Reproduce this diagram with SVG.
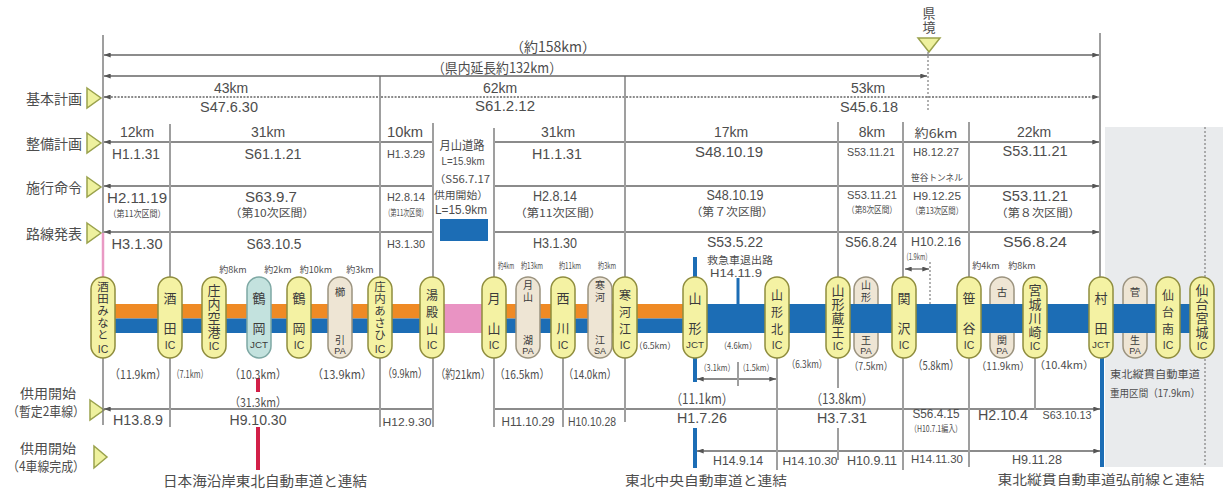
<svg xmlns="http://www.w3.org/2000/svg" width="1223" height="492" viewBox="0 0 1223 492">
<defs>
<style>
text{font-family:"Noto Sans CJK JP","Noto Sans",sans-serif;fill:#4d4d4d;text-anchor:middle;dominant-baseline:central}
.a{font-family:"Liberation Sans",Arial,sans-serif}
.t{font-size:14px}
.m{font-size:12px}
.s{font-size:10.5px}
.xs{font-size:9px}
.lab{font-size:14px;text-anchor:end}
.vt{writing-mode:vertical-rl;text-anchor:start}
.ln{stroke:#666;stroke-width:1.3;fill:none;marker-start:url(#ar);marker-end:url(#ar)}
.dot{stroke-dasharray:2 1.4}
.v{stroke:#777;stroke-width:1.4;fill:none}
.vd{stroke:#888;stroke-width:1.3;stroke-dasharray:2 2;fill:none}
.tri{fill:#eef19e;stroke:#9aa24c;stroke-width:1.5}
.ic{fill:#f4f2a3;stroke:#8f8d3e;stroke-width:1.5}
.jt{fill:#c3e2de;stroke:#7ea8a4;stroke-width:1.5}
.pa{fill:#eee5d4;stroke:#9b937f;stroke-width:1.5}
.n2{font-size:13px;fill:#3b3b3b}
.n3{font-size:12px;fill:#3b3b3b}
.n4{font-size:13px;letter-spacing:1px;fill:#3b3b3b}
.n5{font-size:11.5px;letter-spacing:0.5px;fill:#3b3b3b}
.ns{font-size:10.5px;fill:#3b3b3b}
.np{font-size:9px;fill:#3b3b3b;font-family:"Liberation Sans",Arial,sans-serif}
.sx{font-size:10.5px;fill:#3b3b3b;font-family:"Liberation Sans",Arial,sans-serif}
</style>
<marker id="ar" viewBox="0 0 8 6" refX="8" refY="3" markerWidth="7" markerHeight="5" markerUnits="userSpaceOnUse" orient="auto-start-reverse"><path d="M0,0L8,3L0,6z" fill="#555"/></marker>
</defs>
<rect width="1223" height="492" fill="#fff"/>
<rect x="1105" y="127" width="118" height="340" fill="#e9ebed"/>

<g id="row-labels">
<text class="lab" x="82" y="98">基本計画</text>
<polygon class="tri" points="87,88 101,98 87,108"/>
<text class="lab" x="82" y="143">整備計画</text>
<polygon class="tri" points="87,133 101,143 87,153"/>
<text class="lab" x="82" y="187">施行命令</text>
<polygon class="tri" points="87,177 101,187 87,197"/>
<text class="lab" x="82" y="233">路線発表</text>
<polygon class="tri" points="87,223 101,233 87,243"/>
<text style="font-size:13px" x="48" y="392" textLength="56" lengthAdjust="spacingAndGlyphs">供用開始</text>
<text style="font-size:13px" x="46" y="410" textLength="78" lengthAdjust="spacingAndGlyphs">（暫定2車線）</text>
<polygon class="tri" points="90,400 104,410 90,420"/>
<text style="font-size:13px" x="48" y="447" textLength="56" lengthAdjust="spacingAndGlyphs">供用開始</text>
<text style="font-size:13px" x="46" y="465" textLength="78" lengthAdjust="spacingAndGlyphs">（4車線完成）</text>
<polygon class="tri" points="94,446 107,457 94,468"/>
<text class="vt" style="font-size:13px;letter-spacing:1px" x="929" y="6.5">県境</text>
<polygon class="tri" points="918,38 940,38 929,52"/>
</g>

<g id="connectors">
<path class="v" d="M103 35V233M170 124V277M380 76V277M433 123V277M494 128V277M625 76V277M838 122V277M903 122V277M969 122V277M1100 33V277"/>
<path d="M103 233V277" stroke="#e99ac4" stroke-width="2.5"/>
<path class="vd" d="M928 52V112M930 262V304M1205 127V467"/>
<path class="v" d="M103 358V425M170 358V427M380 358V427M433 358V427M494 358V427M563 358V427M625 358V422M777 358V470M838 358V388M838 428V460M903 358V470M969 358V467M1035 358V410M738 362V386"/>
<path d="M695 257V277M695 358V382M695 428V468M1102 358V467" stroke="#1c6db5" stroke-width="4"/>
<path d="M738 278V304" stroke="#1c6db5" stroke-width="3"/>
<path d="M258 378V392M258 427V470" stroke="#d21f48" stroke-width="4"/>
<path class="ln" d="M104 55H1099"/>
<path class="ln" d="M104 76H927"/>
<path class="ln dot" d="M104 97H379M381 97H624M626 97H1099"/>
<path class="ln" d="M104 142H169M171 142H379M381 142H432M495 142H624M626 142H837M839 142H902M904 142H968M970 142H1099"/>
<path class="ln" d="M104 186H169M171 186H379M381 186H432M495 186H624M626 186H837M839 186H902M904 186H968M970 186H1099"/>
<path class="ln" d="M104 232H169M171 232H379M381 232H432M495 232H624M626 232H837M839 232H902M904 232H968M970 232H1099"/>
<path class="ln" d="M905 269H929"/>
<path class="ln" d="M697 379H737M739 379H776"/>
<path class="ln" d="M104 409H169M171 409H379M381 409H432M495 409H562M564 409H624M626 409H776M778 409H902M904 409H968M970 409H1034M1036 409H1100"/>
<path class="ln" d="M697 451H776M778 451H837M839 451H902M904 451H968M970 451H1100"/>
</g>

<g id="bands">
<rect x="103" y="304" width="330" height="14.5" fill="#ef8a25"/>
<rect x="494" y="304" width="201" height="14.5" fill="#ef8a25"/>
<rect x="103" y="318.5" width="330" height="14.5" fill="#1c6db5"/>
<rect x="494" y="318.5" width="201" height="14.5" fill="#1c6db5"/>
<rect x="433" y="304" width="61" height="29" fill="#e993c3"/>
</g>

<g id="pa-nodes">
<g id="n-kushibiki-pa"><rect class="pa" x="328" y="277" width="24" height="81" rx="12"/><text class="ns" x="340" y="291">櫛</text><text class="ns" style="font-size:10px" x="340" y="339">引</text><text class="np" x="340" y="351">PA</text></g>
<g id="n-gassanko-pa"><rect class="pa" x="516" y="277" width="24" height="81" rx="12"/><text class="ns vt" style="font-size:10px;letter-spacing:2px" x="528" y="280">月山</text><text class="ns" style="font-size:10px" x="528" y="339">湖</text><text class="np" x="528" y="351">PA</text></g>
<g id="n-sagae-sa"><rect class="pa" x="588" y="277" width="24" height="81" rx="12"/><text class="ns vt" style="font-size:10px;letter-spacing:2px" x="600" y="280">寒河</text><text class="ns" style="font-size:10px" x="600" y="339">江</text><text class="np" x="600" y="351">SA</text></g>
<g id="n-zao-pa"><rect class="pa" x="854" y="277" width="24" height="81" rx="12"/><text class="ns vt" style="font-size:10px;letter-spacing:2px" x="866" y="280">山形</text><text class="ns" style="font-size:10px" x="866" y="339">王</text><text class="np" x="866" y="351">PA</text></g>
<g id="n-kozeki-pa"><rect class="pa" x="990" y="277" width="24" height="81" rx="12"/><text class="ns" x="1002" y="291">古</text><text class="ns" style="font-size:10px" x="1002" y="339">関</text><text class="np" x="1002" y="351">PA</text></g>
<g id="n-sugo-pa"><rect class="pa" x="1123" y="277" width="24" height="81" rx="12"/><text class="ns" x="1135" y="291">菅</text><text class="ns" style="font-size:10px" x="1135" y="339">生</text><text class="np" x="1135" y="351">PA</text></g>
</g>

<g id="band-blue">
<rect x="695" y="304" width="507" height="29" fill="#1c6db5"/>
</g>

<g id="ic-nodes">
<g id="n-sakata-minato"><rect class="ic" x="91" y="277" width="24" height="81" rx="12"/><text class="n5 vt" x="103" y="281.25">酒田みなと</text><text class="sx" x="103" y="349">IC</text></g>
<g id="n-sakata"><rect class="ic" x="158" y="277" width="24" height="81" rx="12"/><text class="n2" x="170" y="297">酒</text><text class="n2" x="170" y="327">田</text><text class="sx" x="170" y="345">IC</text></g>
<g id="n-shonai-airport"><rect class="ic" x="202" y="277" width="24" height="81" rx="12"/><text class="n4 vt" x="214" y="283.5">庄内空港</text><text class="sx" x="214" y="346">IC</text></g>
<g id="n-tsuruoka-jct"><rect class="jt" x="247" y="277" width="24" height="81" rx="12"/><text class="n2" x="259" y="297">鶴</text><text class="n2" x="259" y="327">岡</text><text class="np" x="259" y="345" textLength="18" lengthAdjust="spacingAndGlyphs">JCT</text></g>
<g id="n-tsuruoka"><rect class="ic" x="287" y="277" width="24" height="81" rx="12"/><text class="n2" x="299" y="297">鶴</text><text class="n2" x="299" y="327">岡</text><text class="sx" x="299" y="345">IC</text></g>
<g id="n-shonai-asahi"><rect class="ic" x="368" y="277" width="24" height="81" rx="12"/><text class="n5 vt" x="380" y="281.25">庄内あさひ</text><text class="sx" x="380" y="349">IC</text></g>
<g id="n-yudonosan"><rect class="ic" x="420" y="277" width="24" height="81" rx="12"/><text class="n3" x="432" y="294">湯</text><text class="n3" x="432" y="311">殿</text><text class="n3" x="432" y="328">山</text><text class="sx" x="432" y="345">IC</text></g>
<g id="n-gassan"><rect class="ic" x="482" y="277" width="24" height="81" rx="12"/><text class="n2" x="494" y="297">月</text><text class="n2" x="494" y="327">山</text><text class="sx" x="494" y="345">IC</text></g>
<g id="n-nishikawa"><rect class="ic" x="551" y="277" width="24" height="81" rx="12"/><text class="n2" x="563" y="297">西</text><text class="n2" x="563" y="327">川</text><text class="sx" x="563" y="345">IC</text></g>
<g id="n-sagae"><rect class="ic" x="613" y="277" width="24" height="81" rx="12"/><text class="n3" x="625" y="294">寒</text><text class="n3" x="625" y="311">河</text><text class="n3" x="625" y="328">江</text><text class="sx" x="625" y="345">IC</text></g>
<g id="n-yamagata-jct"><rect class="ic" x="683" y="277" width="24" height="81" rx="12"/><text class="n2" x="695" y="297">山</text><text class="n2" x="695" y="327">形</text><text class="np" x="695" y="345" textLength="18" lengthAdjust="spacingAndGlyphs">JCT</text></g>
<g id="n-yamagata-kita"><rect class="ic" x="765" y="277" width="24" height="81" rx="12"/><text class="n3" x="777" y="294">山</text><text class="n3" x="777" y="311">形</text><text class="n3" x="777" y="328">北</text><text class="sx" x="777" y="345">IC</text></g>
<g id="n-yamagata-zao"><rect class="ic" x="826" y="277" width="24" height="81" rx="12"/><text class="n4 vt" x="838" y="283.5">山形蔵王</text><text class="sx" x="838" y="346">IC</text></g>
<g id="n-sekizawa"><rect class="ic" x="892" y="277" width="24" height="81" rx="12"/><text class="n2" x="904" y="297">関</text><text class="n2" x="904" y="327">沢</text><text class="sx" x="904" y="345">IC</text></g>
<g id="n-sasaya"><rect class="ic" x="957" y="277" width="24" height="81" rx="12"/><text class="n2" x="969" y="297">笹</text><text class="n2" x="969" y="327">谷</text><text class="sx" x="969" y="345">IC</text></g>
<g id="n-miyagi-kawasaki"><rect class="ic" x="1023" y="277" width="24" height="81" rx="12"/><text class="n4 vt" x="1035" y="283.5">宮城川崎</text><text class="sx" x="1035" y="346">IC</text></g>
<g id="n-murata-jct"><rect class="ic" x="1089" y="277" width="24" height="81" rx="12"/><text class="n2" x="1101" y="297">村</text><text class="n2" x="1101" y="327">田</text><text class="np" x="1101" y="345" textLength="18" lengthAdjust="spacingAndGlyphs">JCT</text></g>
<g id="n-sendai-minami"><rect class="ic" x="1156" y="277" width="24" height="81" rx="12"/><text class="n3" x="1168" y="294">仙</text><text class="n3" x="1168" y="311">台</text><text class="n3" x="1168" y="328">南</text><text class="sx" x="1168" y="345">IC</text></g>
<g id="n-sendai-miyagi"><rect class="ic" x="1190" y="277" width="24" height="81" rx="12"/><text class="n4 vt" x="1202" y="283.5">仙台宮城</text><text class="sx" x="1202" y="346">IC</text></g>
</g>

<g id="labels">
<text class="t" x="553" y="46">（約158km）</text>
<text class="t" x="497" y="67" textLength="130" lengthAdjust="spacingAndGlyphs">（県内延長約132km）</text>
<text class="t a" x="231" y="88">43km</text><text class="t a" x="229" y="107" textLength="58" lengthAdjust="spacingAndGlyphs">S47.6.30</text>
<text class="t a" x="500" y="88">62km</text><text class="t a" x="505" y="106" textLength="60" lengthAdjust="spacingAndGlyphs">S61.2.12</text>
<text class="t a" x="868" y="88">53km</text><text class="t a" x="869" y="107" textLength="58" lengthAdjust="spacingAndGlyphs">S45.6.18</text>

<text class="t a" x="137" y="132">12km</text><text class="t a" x="136" y="154" textLength="48" lengthAdjust="spacingAndGlyphs">H1.1.31</text>
<text class="t a" x="268" y="132">31km</text><text class="t a" x="273" y="154" textLength="57" lengthAdjust="spacingAndGlyphs">S61.1.21</text>
<text class="t a" x="405" y="132" textLength="36" lengthAdjust="spacingAndGlyphs">10km</text><text class="s a" x="406" y="154" textLength="38" lengthAdjust="spacingAndGlyphs">H1.3.29</text>
<text class="m" x="462" y="144" textLength="45" lengthAdjust="spacingAndGlyphs">月山道路</text>
<text class="s a" x="463" y="161" textLength="43" lengthAdjust="spacingAndGlyphs">L=15.9km</text>
<text class="s" x="462" y="178" textLength="56" lengthAdjust="spacingAndGlyphs">（S56.7.17</text>
<text class="s" x="461" y="194" textLength="54" lengthAdjust="spacingAndGlyphs">供用開始）</text>
<text class="m a" x="461" y="210" textLength="52" lengthAdjust="spacingAndGlyphs">L=15.9km</text>
<rect x="440" y="219" width="48" height="22" fill="#1c6db5"/>
<text class="t a" x="558" y="132">31km</text><text class="t a" x="557" y="154" textLength="50" lengthAdjust="spacingAndGlyphs">H1.1.31</text>
<text class="t a" x="731" y="132">17km</text><text class="t a" x="729" y="152" textLength="68" lengthAdjust="spacingAndGlyphs">S48.10.19</text>
<text class="t a" x="872" y="132">8km</text><text class="s a" x="871" y="152" textLength="48" lengthAdjust="spacingAndGlyphs">S53.11.21</text>
<text class="m" x="936" y="132" textLength="43" lengthAdjust="spacingAndGlyphs">約6km</text><text class="s a" x="936" y="152" textLength="46" lengthAdjust="spacingAndGlyphs">H8.12.27</text>
<text class="t a" x="1034" y="132">22km</text><text class="t a" x="1035" y="151" textLength="65" lengthAdjust="spacingAndGlyphs">S53.11.21</text>

<text class="t a" x="137" y="198" textLength="60" lengthAdjust="spacingAndGlyphs">H2.11.19</text><text class="xs" x="137" y="213" textLength="57" lengthAdjust="spacingAndGlyphs">（第11次区間）</text>
<text class="t a" x="271" y="197" textLength="52" lengthAdjust="spacingAndGlyphs">S63.9.7</text><text style="font-size:11px" x="272" y="212" textLength="85" lengthAdjust="spacingAndGlyphs">（第10次区間）</text>
<text class="s a" x="406" y="197" textLength="38" lengthAdjust="spacingAndGlyphs">H2.8.14</text><text class="xs" transform="translate(406 212) scale(0.65 1)" textLength="66" lengthAdjust="spacingAndGlyphs">（第11次区間）</text>
<text class="t a" x="555" y="196" textLength="44" lengthAdjust="spacingAndGlyphs">H2.8.14</text><text style="font-size:11px" x="558" y="212" textLength="87" lengthAdjust="spacingAndGlyphs">（第11次区間）</text>
<text class="t a" x="735" y="195" textLength="57" lengthAdjust="spacingAndGlyphs">S48.10.19</text><text style="font-size:11px" x="732" y="211" textLength="83" lengthAdjust="spacingAndGlyphs">（第７次区間）</text>
<text class="s a" x="872" y="195" textLength="50" lengthAdjust="spacingAndGlyphs">S53.11.21</text><text class="xs" x="872" y="209" textLength="50" lengthAdjust="spacingAndGlyphs">（第8次区間）</text>
<text class="xs" x="937" y="177" textLength="52" lengthAdjust="spacingAndGlyphs">笹谷トンネル</text>
<text class="s a" x="937" y="196" textLength="48" lengthAdjust="spacingAndGlyphs">H9.12.25</text><text class="xs" x="937" y="210" textLength="52" lengthAdjust="spacingAndGlyphs">（第13次区間）</text>
<text class="t a" x="1035" y="196" textLength="66" lengthAdjust="spacingAndGlyphs">S53.11.21</text><text style="font-size:11px" x="1038" y="212" textLength="85" lengthAdjust="spacingAndGlyphs">（第８次区間）</text>

<text class="t a" x="137" y="244" textLength="51" lengthAdjust="spacingAndGlyphs">H3.1.30</text>
<text class="t a" x="274" y="244" textLength="55" lengthAdjust="spacingAndGlyphs">S63.10.5</text>
<text class="s a" x="406" y="244" textLength="38" lengthAdjust="spacingAndGlyphs">H3.1.30</text>
<text class="t a" x="555" y="243" textLength="44" lengthAdjust="spacingAndGlyphs">H3.1.30</text>
<text class="t a" x="735" y="242" textLength="56" lengthAdjust="spacingAndGlyphs">S53.5.22</text>
<text class="t a" x="871" y="242" textLength="52" lengthAdjust="spacingAndGlyphs">S56.8.24</text>
<text class="m a" x="936" y="242" textLength="50" lengthAdjust="spacingAndGlyphs">H10.2.16</text>
<text class="xs" x="917" y="256" textLength="28" lengthAdjust="spacingAndGlyphs">（1.9km）</text>
<text class="t a" x="1035" y="242" textLength="64" lengthAdjust="spacingAndGlyphs">S56.8.24</text>

<text class="xs" x="233" y="269">約8km</text><text class="xs" x="278" y="269">約2km</text><text class="xs" x="316" y="269">約10km</text><text class="xs" x="360" y="269">約3km</text>
<text class="xs" transform="translate(506 265) scale(0.65 1)" textLength="25" lengthAdjust="spacingAndGlyphs">約4km</text>
<text class="xs" transform="translate(532 265) scale(0.65 1)" textLength="34" lengthAdjust="spacingAndGlyphs">約13km</text>
<text class="xs" transform="translate(570 265) scale(0.65 1)" textLength="34" lengthAdjust="spacingAndGlyphs">約11km</text>
<text class="xs" transform="translate(607 265) scale(0.65 1)" textLength="28" lengthAdjust="spacingAndGlyphs">約3km</text>
<text class="xs" x="986" y="265">約4km</text><text class="xs" x="1022" y="265">約8km</text>
<text class="s" x="740" y="259" textLength="66" lengthAdjust="spacingAndGlyphs">救急車退出路</text>
<text class="s a" x="736" y="273" textLength="52" lengthAdjust="spacingAndGlyphs">H14.11.9</text>

<text class="m" transform="translate(138 373) scale(0.8 1)" textLength="71" lengthAdjust="spacingAndGlyphs">（11.9km）</text>
<text class="s" transform="translate(190 373) scale(0.7 1)" textLength="51" lengthAdjust="spacingAndGlyphs">（7.1km）</text>
<text class="m" transform="translate(258 373) scale(0.8 1)" textLength="71" lengthAdjust="spacingAndGlyphs">（10.3km）</text>
<text class="m" transform="translate(342 373) scale(0.8 1)" textLength="75" lengthAdjust="spacingAndGlyphs">（13.9km）</text>
<text class="m" transform="translate(405 373) scale(0.75 1)" textLength="59" lengthAdjust="spacingAndGlyphs">（9.9km）</text>
<text class="m" transform="translate(463 373) scale(0.8 1)" textLength="69" lengthAdjust="spacingAndGlyphs">（約21km）</text>
<text class="m" transform="translate(522 373) scale(0.8 1)" textLength="69" lengthAdjust="spacingAndGlyphs">（16.5km）</text>
<text class="m" transform="translate(590 373) scale(0.8 1)" textLength="66" lengthAdjust="spacingAndGlyphs">（14.0km）</text>
<text class="xs" x="655" y="345" textLength="42" lengthAdjust="spacingAndGlyphs">（6.5km）</text>
<text class="xs" x="738" y="345" textLength="37" lengthAdjust="spacingAndGlyphs">（4.6km）</text>
<text class="xs" transform="translate(717 367) scale(0.75 1)" textLength="47" lengthAdjust="spacingAndGlyphs">（3.1km）</text>
<text class="xs" transform="translate(756 367) scale(0.75 1)" textLength="47" lengthAdjust="spacingAndGlyphs">（1.5km）</text>
<text class="s" x="807" y="363" textLength="40" lengthAdjust="spacingAndGlyphs">（6.3km）</text>
<text class="s" x="871" y="365" textLength="43" lengthAdjust="spacingAndGlyphs">（7.5km）</text>
<text class="m" x="936" y="364" textLength="46" lengthAdjust="spacingAndGlyphs">（5.8km）</text>
<text style="font-size:10.5px" x="1003" y="365.5" textLength="53" lengthAdjust="spacingAndGlyphs">（11.9km）</text>
<text style="font-size:10.5px" x="1064" y="364" textLength="60" lengthAdjust="spacingAndGlyphs">（10.4km）</text>

<text class="t a" x="138" y="420" textLength="50" lengthAdjust="spacingAndGlyphs">H13.8.9</text>
<text class="m" x="258" y="401" textLength="57" lengthAdjust="spacingAndGlyphs">（31.3km）</text>
<text class="t a" x="258" y="420" textLength="57" lengthAdjust="spacingAndGlyphs">H9.10.30</text>
<text class="s a" x="407" y="422" textLength="49" lengthAdjust="spacingAndGlyphs">H12.9.30</text>
<text class="m a" x="528" y="422" textLength="53" lengthAdjust="spacingAndGlyphs">H11.10.29</text>
<text class="m a" x="592" y="422" textLength="48" lengthAdjust="spacingAndGlyphs">H10.10.28</text>
<text class="t" x="702" y="398" textLength="63" lengthAdjust="spacingAndGlyphs">（11.1km）</text>
<text class="t a" x="702" y="418" textLength="50" lengthAdjust="spacingAndGlyphs">H1.7.26</text>
<text class="t" x="842" y="398" textLength="63" lengthAdjust="spacingAndGlyphs">（13.8km）</text>
<text class="t a" x="842" y="418" textLength="50" lengthAdjust="spacingAndGlyphs">H3.7.31</text>
<text class="m a" x="936" y="414" textLength="47" lengthAdjust="spacingAndGlyphs">S56.4.15</text>
<text class="xs" x="936" y="428" textLength="52" lengthAdjust="spacingAndGlyphs">（H10.7.1編入）</text>
<text class="t a" x="1003" y="415" textLength="50" lengthAdjust="spacingAndGlyphs">H2.10.4</text>
<text class="s a" x="1067" y="415" textLength="49" lengthAdjust="spacingAndGlyphs">S63.10.13</text>

<text class="m a" x="738" y="461" textLength="50" lengthAdjust="spacingAndGlyphs">H14.9.14</text>
<text class="s a" x="810" y="461" textLength="55" lengthAdjust="spacingAndGlyphs">H14.10.30</text>
<text class="m a" x="872" y="461" textLength="50" lengthAdjust="spacingAndGlyphs">H10.9.11</text>
<text class="s a" x="937" y="459" textLength="52" lengthAdjust="spacingAndGlyphs">H14.11.30</text>
<text class="m a" x="1037" y="460" textLength="50" lengthAdjust="spacingAndGlyphs">H9.11.28</text>

<text class="s" x="1110" y="373" style="text-anchor:start" textLength="90" lengthAdjust="spacingAndGlyphs">東北縦貫自動車道</text>
<text class="s" x="1110" y="392" style="text-anchor:start" textLength="90" lengthAdjust="spacingAndGlyphs">重用区間（17.9km）</text>

<text class="t" x="265" y="480" textLength="204" lengthAdjust="spacingAndGlyphs">日本海沿岸東北自動車道と連結</text>
<text style="font-size:13px" x="706" y="479.5" textLength="162" lengthAdjust="spacingAndGlyphs">東北中央自動車道と連結</text>
<text style="font-size:13px" x="1101" y="478.5" textLength="207" lengthAdjust="spacingAndGlyphs">東北縦貫自動車道弘前線と連結</text>
</g>
</svg>
